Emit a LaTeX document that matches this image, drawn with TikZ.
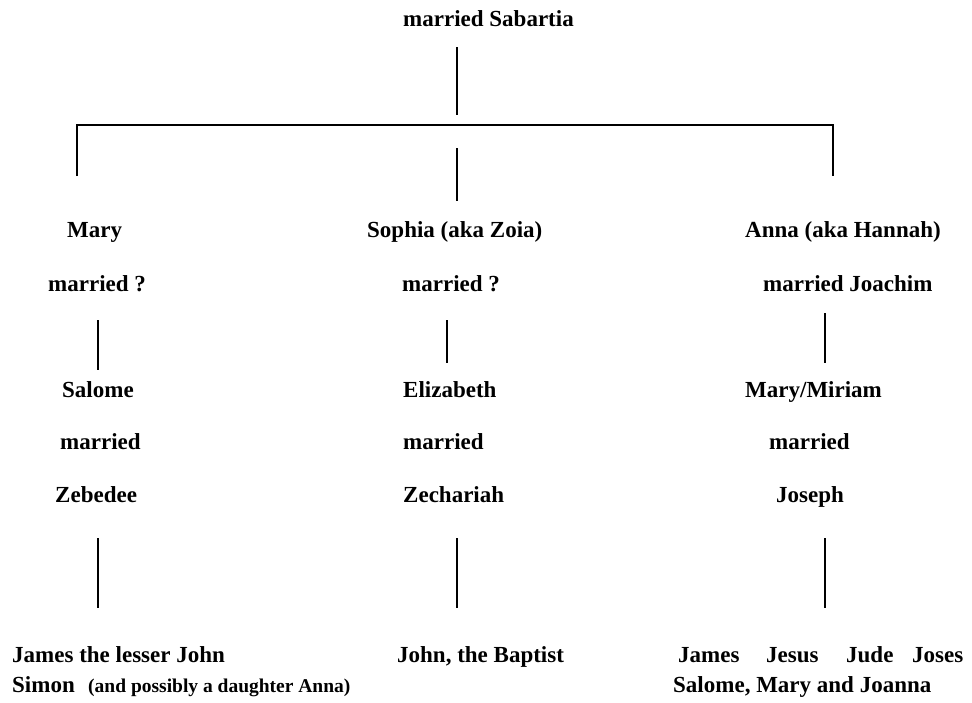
\documentclass[tikz,border=0pt]{standalone}
\usepackage{fontspec}
\setmainfont{Liberation Serif}
\usetikzlibrary{positioning}

\tikzset{
	person/.style={anchor=base west, inner sep=0pt, font=\fontsize{23}{23}\selectfont\bfseries},
	remark/.style={anchor=base west, inner sep=0pt, font=\fontsize{19.5}{20}\selectfont\bfseries},
	stem/.style={line width=2.4pt},
	bar/.style={line width=2.8pt, line join=miter},
}

\begin{document}
\begin{tikzpicture}[x=1pt,y=-1pt]
	\useasboundingbox (0,0) rectangle (972,702);
	
	% ---------------------
	% Top of the tree
	\node[person] (Sabartia) at (403,26) {married Sabartia};
	
	\coordinate (TopStemUpper) at (457,47);
	\path (TopStemUpper) +(0,68) coordinate (TopStemLower);
	
	\coordinate (BarLeft) at (77,125);
	\coordinate (BarRight) at (833,125);
	\path (BarLeft) +(0,51) coordinate (BarLeftDrop);
	\path (BarRight) +(0,51) coordinate (BarRightDrop);
	
	\coordinate (MidStemUpper) at (457,148);
	\path (MidStemUpper) +(0,53) coordinate (MidStemLower);
	
	\draw[stem] (TopStemUpper) -- (TopStemLower);
	\draw[bar] (BarLeftDrop) -- (BarLeft) -- (BarRight) -- (BarRightDrop);
	\draw[stem] (MidStemUpper) -- (MidStemLower);
	
	% ---------------------
	% The three daughters
	\node[person] (Mary) at (67,237) {Mary};
	\node[person] (MaryMarried) at (48,291) {married ?};
	
	\node[person] (Sophia) at (367,237) {Sophia (aka Zoia)};
	\node[person] (SophiaMarried) at (402,291) {married ?};
	
	\node[person] (Anna) at (745,237) {Anna (aka Hannah)};
	\node[person] (AnnaMarried) at (763,291) {married Joachim};
	
	% ---------------------
	% Second generation
	\coordinate (MaryStemUpper) at (98,320);
	\path (MaryStemUpper) +(0,50) coordinate (MaryStemLower);
	\coordinate (SophiaStemUpper) at (447,320);
	\path (SophiaStemUpper) +(0,43) coordinate (SophiaStemLower);
	\coordinate (AnnaStemUpper) at (825,313);
	\path (AnnaStemUpper) +(0,50) coordinate (AnnaStemLower);
	
	\draw[stem] (MaryStemUpper) -- (MaryStemLower);
	\draw[stem] (SophiaStemUpper) -- (SophiaStemLower);
	\draw[stem] (AnnaStemUpper) -- (AnnaStemLower);
	
	\node[person] (Salome) at (62,397) {Salome};
	\node[person] (SalomeMarried) at (60,449) {married};
	\node[person] (Zebedee) at (55,502) {Zebedee};
	
	\node[person] (Elizabeth) at (403,397) {Elizabeth};
	\node[person] (ElizabethMarried) at (403,449) {married};
	\node[person] (Zechariah) at (403,502) {Zechariah};
	
	\node[person] (Miriam) at (745,397) {Mary/Miriam};
	\node[person] (MiriamMarried) at (769,449) {married};
	\node[person] (Joseph) at (776,502) {Joseph};
	
	% ---------------------
	% Third generation
	\coordinate (SalomeStemUpper) at (98,538);
	\path (SalomeStemUpper) +(0,70) coordinate (SalomeStemLower);
	\coordinate (ElizabethStemUpper) at (457,538);
	\path (ElizabethStemUpper) +(0,70) coordinate (ElizabethStemLower);
	\coordinate (MiriamStemUpper) at (825,538);
	\path (MiriamStemUpper) +(0,70) coordinate (MiriamStemLower);
	
	\draw[stem] (SalomeStemUpper) -- (SalomeStemLower);
	\draw[stem] (ElizabethStemUpper) -- (ElizabethStemLower);
	\draw[stem] (MiriamStemUpper) -- (MiriamStemLower);
	
	\node[person] (SalomeSons) at (12,662) {James the lesser John};
	\node[person] (Simon) at (12,692) {Simon};
	\node[remark] (SimonNote) at (88,692) {(and possibly a daughter Anna)};
	
	\node[person] (Baptist) at (397,662) {John, the Baptist};
	
	\node[person] (James) at (678,662) {James};
	\node[person] (Jesus) at (766,662) {Jesus};
	\node[person] (Jude) at (846,662) {Jude};
	\node[person] (Joses) at (912,662) {Joses};
	\node[person] (Sisters) at (673,692) {Salome, Mary and Joanna};
	
\end{tikzpicture}
\end{document}
